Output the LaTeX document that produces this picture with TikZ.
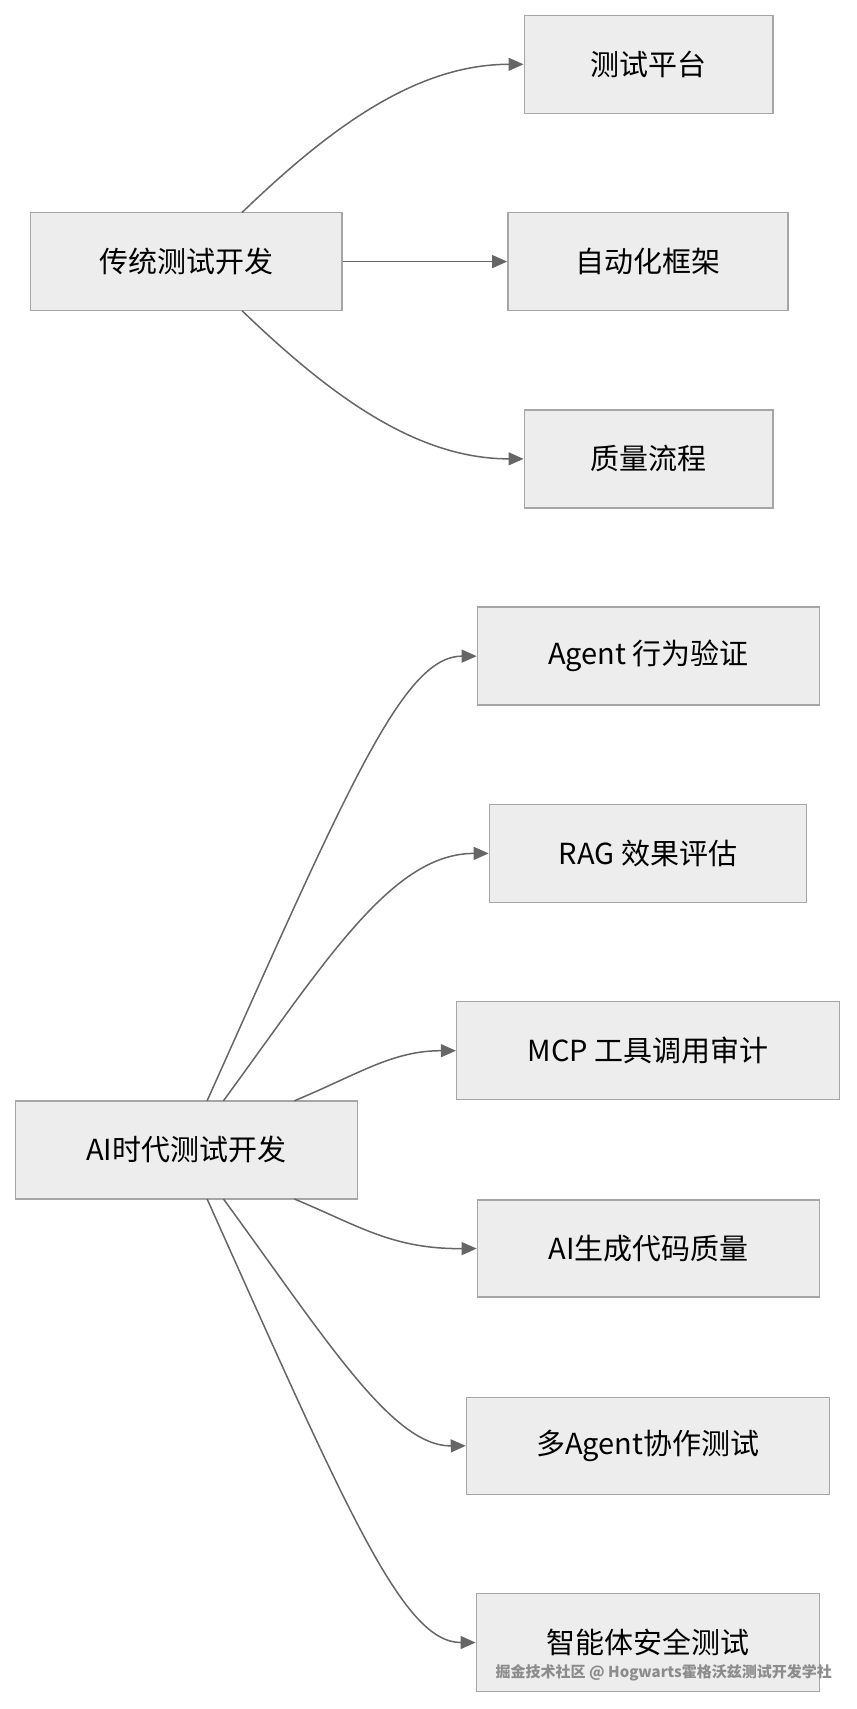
\documentclass[tikz,border=0pt]{standalone}
\usepackage{fontspec}
\newfontfamily\cjk{Noto Sans CJK SC}
\usetikzlibrary{arrows.meta}
\begin{document}
\begin{tikzpicture}[x=1.09pt,y=-1.09pt,
box/.style={draw=black!35,line width=1.5pt,fill=black!7,inner sep=0pt,font=\cjk\fontsize{29}{32}\selectfont},
ar/.style={draw=black!60,line width=1.5pt,-{Triangle[length=15pt,width=13pt]}}]
\useasboundingbox (0,0) rectangle (786,1568);
\newcommand\bx[6]{\node[box,minimum width={(#4-#3)*1.09pt},minimum height={(#6-#5)*1.09pt}] (#1) at ({(#3+#4)/2},{(#5+#6)/2}) {#2};}
\bx{t}{传统测试开发}{28}{314}{195}{285}
\bx{a}{测试平台}{481}{709}{14}{104}
\bx{b}{自动化框架}{466}{723}{195}{285}
\bx{c}{质量流程}{481}{709}{376}{466}
\bx{s}{AI时代测试开发}{14}{328}{1010}{1100}
\bx{d}{Agent 行为验证}{438}{752}{557}{647}
\bx{e}{RAG 效果评估}{449}{740}{738}{828}
\bx{f}{MCP 工具调用审计}{419}{770}{919}{1009}
\bx{g}{AI生成代码质量}{438}{752}{1101}{1190}
\bx{h}{多Agent协作测试}{428}{761}{1282}{1371}
\bx{i}{智能体安全测试}{437}{752}{1462}{1552}
\draw[ar] (222,195) .. controls (300,120) and (380,59) .. (a.west);
\draw[ar] (t.east) -- (b.west);
\draw[ar] (222,285) .. controls (300,360) and (380,421) .. (c.west);
\draw[ar] (190,1010) .. controls (320,720) and (370,602) .. (d.west);
\draw[ar] (205,1010) .. controls (300,880) and (360,783) .. (e.west);
\draw[ar] (270,1010) .. controls (330,985) and (360,964) .. (f.west);
\draw[ar] (270,1100) .. controls (330,1125) and (360,1146) .. (g.west);
\draw[ar] (205,1100) .. controls (300,1230) and (360,1327) .. (h.west);
\draw[ar] (190,1100) .. controls (320,1390) and (370,1507) .. (i.west);
\node[font=\cjk\fontsize{15}{17}\selectfont\bfseries,text=black!45] (w) at (609,1535) {掘金技术社区 @ Hogwarts霍格沃兹测试开发学社};
\end{tikzpicture}
\end{document}
